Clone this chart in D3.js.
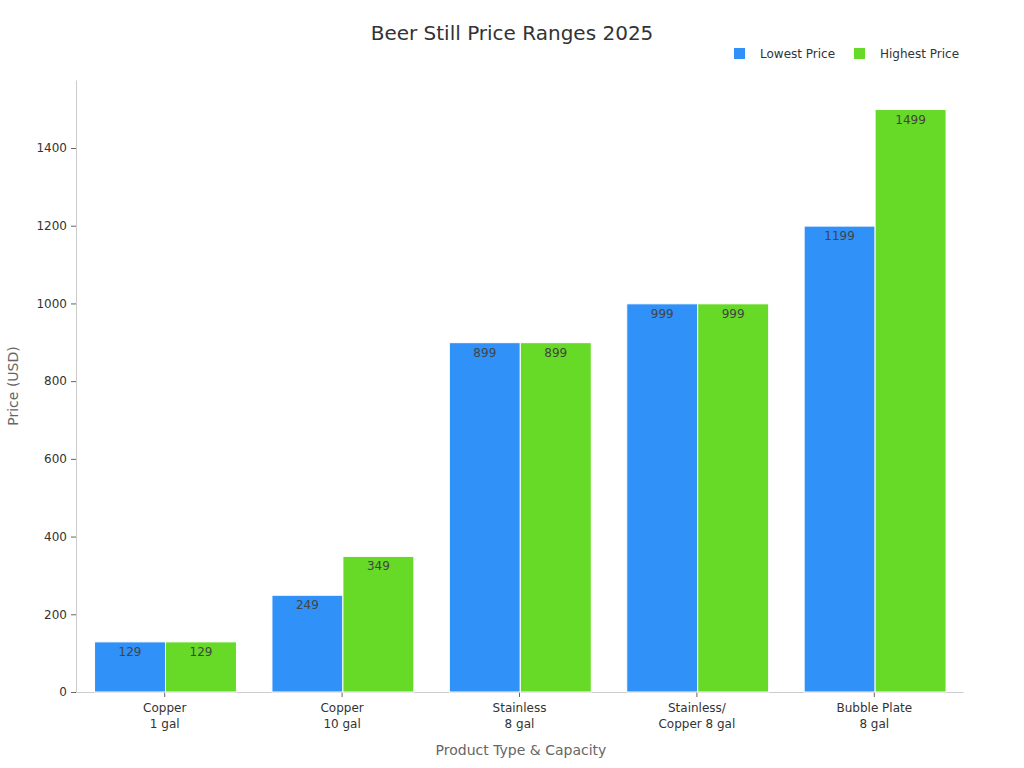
<!DOCTYPE html>
<html><head><meta charset="utf-8">
<script src="https://cdn.jsdelivr.net/npm/d3@7"></script>
<style>body{margin:0;background:#fff;font-family:"DejaVu Sans",sans-serif;}</style>
</head><body><svg id="c" width="1024" height="768"></svg>
<script>
const categories = [["Copper","1 gal"],["Copper","10 gal"],["Stainless","8 gal"],["Stainless/","Copper 8 gal"],["Bubble Plate","8 gal"]];
const seriesNames = ["Lowest Price","Highest Price"];
const lowestPrice = [129,249,899,999,1199];
const highestPrice = [129,349,899,999,1499];
const yTicks = [0,200,400,600,800,1000,1200,1400];
const colors = ["#3091F8","#66DA26"];

const svg = d3.select("#c");
const m = {l:76, r:963, t:80, b:692};
const x = d3.scaleBand().domain(d3.range(categories.length)).range([m.l,m.r]).paddingInner(0).paddingOuter(0);
const xs = d3.scaleBand().domain([0,1]).range([0, x.bandwidth()*0.8]);
const y = d3.scaleLinear().domain([0,1575]).range([m.b,m.t]);

svg.append("text").attr("x",512).attr("y",40).attr("text-anchor","middle").attr("font-size",20).attr("fill","#333").text("Beer Still Price Ranges 2025");

// legend
const leg = [{x:734,t:760},{x:854,t:880}];
seriesNames.forEach((n,i)=>{
  svg.append("rect").attr("x",leg[i].x).attr("y",48).attr("width",11).attr("height",11).attr("fill",colors[i]);
  svg.append("text").attr("x",leg[i].t).attr("y",58).attr("font-size",12).attr("fill","#333").text(n);
});

// axes
const ya = svg.append("g").attr("transform",`translate(${m.l},0)`).call(d3.axisLeft(y).tickValues(yTicks).tickFormat(d3.format("d")).tickSize(5).tickSizeOuter(0).tickPadding(4));
ya.select(".domain").attr("stroke","#ccc");
ya.selectAll(".tick line").attr("stroke","#666");
ya.selectAll(".tick text").attr("font-size",12).attr("fill","#333").attr("font-family","DejaVu Sans");

const xa = svg.append("g").attr("transform",`translate(0,${m.b})`).call(d3.axisBottom(x).tickSize(5).tickSizeOuter(0).tickFormat(""));
xa.select(".domain").attr("stroke","#ccc");
xa.selectAll(".tick line").attr("stroke","#666");
categories.forEach((c,i)=>{
  const t = svg.append("text").attr("x",x(i)+x.bandwidth()/2).attr("y",712).attr("text-anchor","middle").attr("font-size",12).attr("fill","#333");
  t.append("tspan").attr("x",x(i)+x.bandwidth()/2).attr("dy",0).text(c[0]);
  t.append("tspan").attr("x",x(i)+x.bandwidth()/2).attr("dy",16).text(c[1]);
});

svg.append("text").attr("x",521).attr("y",755).attr("text-anchor","middle").attr("font-size",14).attr("fill","#666").text("Product Type & Capacity");
svg.append("text").attr("transform","translate(18,386) rotate(-90)").attr("text-anchor","middle").attr("font-size",14).attr("fill","#666").text("Price (USD)");

// bars
const series = [lowestPrice, highestPrice];
series.forEach((vals,s)=>{
  const g = svg.append("g");
  g.selectAll("rect").data(vals).join("rect")
    .attr("x",(d,i)=>x(i)+x.bandwidth()*0.1+xs(s)+0.8)
    .attr("y",d=>y(d)).attr("width",xs.bandwidth()).attr("height",d=>m.b-y(d))
    .attr("fill",colors[s]).attr("stroke","#fff").attr("stroke-width",1);
  g.selectAll("text").data(vals).join("text")
    .attr("x",(d,i)=>x(i)+x.bandwidth()*0.1+xs(s)+0.8+xs.bandwidth()/2)
    .attr("y",d=>y(d)+14).attr("text-anchor","middle").attr("font-size",12).attr("fill","#444").text(d=>d);
});
</script></body></html>
